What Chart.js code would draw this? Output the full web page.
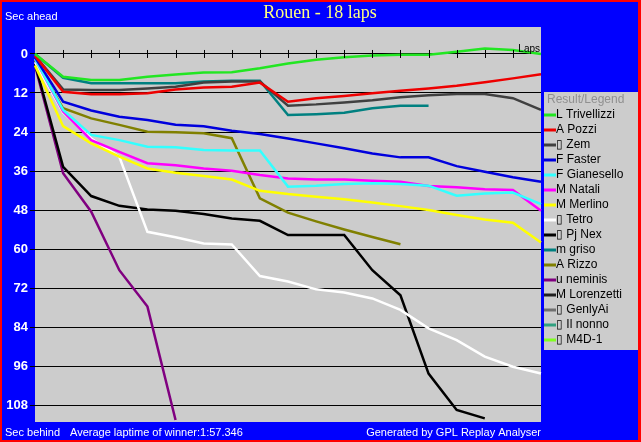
<!DOCTYPE html>
<html lang="en">
<head>
    <meta charset="UTF-8">
    <title>Rouen - 18 laps</title>
    <script src="https://cdn.jsdelivr.net/npm/chart.js"></script>
    <style>
        body {
            margin: 0;
            background-color: #0000ff;
        }
        canvas {
            display: block;
        }
    </style>
</head>
<body>
    <canvas id="lapChart" width="641" height="442"></canvas>

    <script>
        // Dados: segundos atras do lider, volta 0..18
        const laps = [0, 1, 2, 3, 4, 5, 6, 7, 8, 9, 10, 11, 12, 13, 14, 15, 16, 17, 18];
        const yTicks = [0, 12, 24, 36, 48, 60, 72, 84, 96, 108];

        const drivers = ['L Trivellizzi', 'A Pozzi', '\u25AF Zem', 'F Faster', 'F Gianesello', 'M Natali',
                         'M Merlino', '\u25AF Tetro', '\u25AF Pj Nex', 'm griso', 'A Rizzo', 'u neminis',
                         'M Lorenzetti', '\u25AF GenlyAi', '\u25AF Il nonno', '\u25AF M4D-1'];
        const colors = ['#22e622', '#ee0000', '#404040', '#0000dd', '#33ffff', '#ff00ff',
                        '#ffff00', '#ffffff', '#000000', '#008080', '#808000', '#800080',
                        '#202020', '#707070', '#30a080', '#80ff20'];

        const trivellizzi = [0, 7.0, 8.0, 8.0, 7.0, 6.3, 5.7, 5.6, 4.4, 2.9, 1.8, 1.0, 0.5, 0.2, 0.2, -0.7, -1.7, -1.2, 0];
        const pozzi = [0.5, 11.6, 12.4, 12.4, 12.1, 10.9, 10.3, 10.1, 8.8, 14.7, 13.6, 12.9, 12.1, 11.3, 10.6, 9.8, 8.7, 7.5, 6.2];
        const zem = [0.5, 10.9, 11.1, 11.1, 10.6, 10.1, 8.8, 8.5, 8.5, 15.9, 15.5, 14.9, 14.2, 13.3, 12.7, 12.3, 12.3, 13.6, 17.2];
        const faster = [1, 14.7, 17.4, 19.3, 20.3, 21.8, 22.2, 23.6, 24.6, 26.0, 27.5, 29.0, 30.6, 31.8, 31.8, 34.5, 36.2, 37.9, 39.3];
        const gianesello = [1.5, 17.2, 24.9, 26.5, 28.5, 28.7, 29.5, 29.7, 29.7, 40.8, 40.5, 40.0, 39.8, 40.0, 40.5, 43.6, 42.9, 42.6, 46.2];
        const natali = [1.5, 17.7, 26.5, 30.1, 33.6, 34.2, 35.2, 35.9, 37.2, 38.3, 38.6, 38.6, 39.0, 39.3, 40.6, 41.0, 41.6, 41.8, 48.2];
        const merlino = [3.5, 22.2, 27.5, 31.6, 35.2, 36.5, 37.5, 38.6, 42.1, 43.1, 43.9, 44.7, 45.7, 46.8, 48.0, 49.5, 50.9, 51.9, 58.0];
        const tetro = [2.5, 18.0, 26.0, 31.6, 54.7, 56.4, 58.3, 58.6, 68.3, 70.0, 72.4, 73.4, 75.2, 78.7, 84.4, 88.0, 93.1, 96.2, 98.3];
        const pjNex = [3, 34.7, 43.7, 46.7, 47.8, 48.2, 49.2, 50.6, 51.3, 55.7, 55.7, 55.7, 66.5, 74.2, 98.3, 109.5, 112.1];
        const griso = [0, 7.3, 9.0, 9.0, 9.0, 9.0, 8.5, 8.2, 8.2, 18.8, 18.5, 18.1, 16.7, 15.9, 15.9];
        const rizzo = [2, 16.7, 19.8, 21.8, 23.9, 24.1, 24.4, 25.9, 44.4, 48.8, 51.5, 54.0, 56.3, 58.5];
        const neminis = [3.5, 36.7, 48.5, 66.5, 77.7, 112.6];

        const series = [trivellizzi, pozzi, zem, faster, gianesello, natali, merlino, tetro,
                        pjNex, griso, rizzo, neminis, [], [], [], []];

        const lapData = {
            labels: laps,
            datasets: drivers.map((name, i) => ({
                label: name,
                data: series[i],
                borderColor: colors[i],
                backgroundColor: colors[i],
                borderWidth: 2.5,
                pointRadius: 0,
                tension: 0,
                fill: false
            }))
        };

        // Fundo, titulos, legenda e marcas do eixo de voltas
        const decorPlugin = {
            id: 'decor',
            beforeDraw(chart) {
                const ctx = chart.ctx;
                const a = chart.chartArea;
                ctx.save();
                ctx.fillStyle = '#ff0000';
                ctx.fillRect(0, 0, chart.width, chart.height);
                ctx.fillStyle = '#0000ff';
                ctx.fillRect(2, 2, chart.width - 5, chart.height - 4);
                ctx.fillStyle = '#cccccc';
                ctx.fillRect(a.left, a.top, a.right - a.left, a.bottom - a.top);
                ctx.restore();
            },
            afterDraw(chart) {
                const ctx = chart.ctx;
                const a = chart.chartArea;
                const x = chart.scales.x;
                const y = chart.scales.y;
                ctx.save();

                // marcas das voltas na linha do zero
                const y0 = y.getPixelForValue(0);
                ctx.strokeStyle = '#000000';
                ctx.lineWidth = 1;
                for (let i = 1; i < laps.length - 1; i++) {
                    const px = Math.round(x.getPixelForValue(i)) + 0.5;
                    ctx.beginPath();
                    ctx.moveTo(px, y0 - 4);
                    ctx.lineTo(px, y0 + 4);
                    ctx.stroke();
                }
                ctx.fillStyle = '#000000';
                ctx.font = '10px Arial';
                ctx.textAlign = 'right';
                ctx.textBaseline = 'alphabetic';
                ctx.fillText('Laps', a.right - 1, y0 - 2);

                // titulo
                ctx.fillStyle = '#ffff80';
                ctx.font = '18px "Liberation Serif", "Times New Roman", serif';
                ctx.textAlign = 'center';
                ctx.textBaseline = 'middle';
                ctx.fillText('Rouen - 18 laps', 320, 13);

                ctx.fillStyle = '#ffffff';
                ctx.font = '11px Arial';
                ctx.textAlign = 'left';
                ctx.fillText('Sec ahead', 5, 17);
                ctx.fillText('Sec behind', 5, 433);
                ctx.fillText('Average laptime of winner:1:57.346', 70, 433);
                ctx.textAlign = 'right';
                ctx.fillText('Generated by GPL Replay Analyser', a.right, 433);

                // legenda
                const lx = 544, ly = 92, lw = 94, lh = 258;
                ctx.fillStyle = '#cccccc';
                ctx.fillRect(lx, ly, lw, lh);
                ctx.font = '12px Arial';
                ctx.textAlign = 'left';
                ctx.fillStyle = '#909090';
                ctx.fillText('Result/Legend', lx + 3, ly + 8);
                chart.data.datasets.forEach((ds, i) => {
                    const cy = ly + 23 + i * 15;
                    ctx.strokeStyle = ds.borderColor;
                    ctx.lineWidth = 3;
                    ctx.beginPath();
                    ctx.moveTo(lx, cy);
                    ctx.lineTo(lx + 12, cy);
                    ctx.stroke();
                    ctx.fillStyle = '#000000';
                    ctx.fillText(ds.label, lx + 12, cy);
                });
                ctx.restore();
            }
        };

        const lapConfig = {
            type: 'line',
            data: lapData,
            plugins: [decorPlugin],
            options: {
                responsive: false,
                animation: false,
                devicePixelRatio: 1,
                layout: {
                    padding: { left: 0, top: 27, right: 100, bottom: 20 }
                },
                plugins: {
                    legend: { display: false },
                    title: { display: false },
                    tooltip: { enabled: false }
                },
                scales: {
                    x: {
                        display: false
                    },
                    y: {
                        reverse: true,
                        min: -8.3,
                        max: 113.2,
                        afterFit: (scale) => { scale.width = 35; },
                        afterBuildTicks: (scale) => {
                            scale.ticks = yTicks.map(v => ({ value: v }));
                        },
                        border: { display: false },
                        grid: {
                            color: '#000000',
                            lineWidth: 1,
                            tickLength: 5,
                            tickColor: '#000000'
                        },
                        ticks: {
                            color: '#ffffff',
                            padding: 2,
                            font: { family: 'Arial', size: 13, weight: 'bold' }
                        }
                    }
                }
            }
        };

        const lapChart = new Chart(document.getElementById('lapChart'), lapConfig);
    </script>
</body>
</html>
